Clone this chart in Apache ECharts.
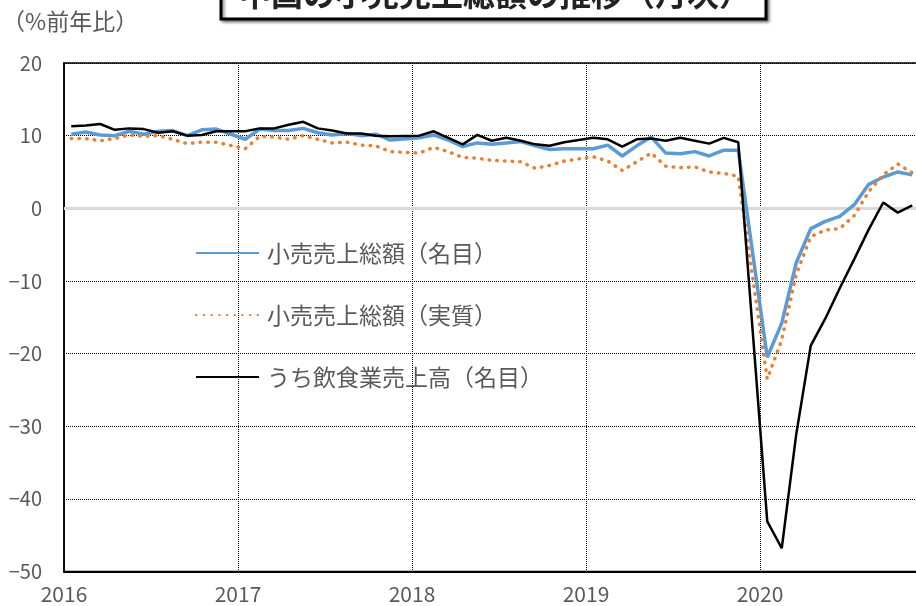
<!DOCTYPE html>
<html>
<head>
<meta charset="utf-8">
<script src="https://cdn.jsdelivr.net/npm/echarts@6/dist/echarts.min.js"></script>
<style>
  html, body { margin: 0; padding: 0; background: #fff; }
  #main { width: 916px; height: 606px; }
</style>
</head>
<body>
<div id="main"></div>
<script>
// one slot per month from Jan 2016; Jan-Feb combined sits in the first slot,
// the last slot of each year is empty and the line just runs through it
const years = ['2016', '2017', '2018', '2019', '2020'];
const seriesNames = ['小売売上総額（名目）', '小売売上総額（実質）', 'うち飲食業売上高（名目）'];

const nominal = [
  10.2, 10.5, 10.1, 10.0, 10.6, 10.2, 10.6, 10.7, 10.0, 10.8, 10.9, null,
  9.5, 10.9, 10.7, 10.7, 11.0, 10.4, 10.1, 10.3, 10.0, 10.2, 9.4, null,
  9.7, 10.1, 9.4, 8.5, 9.0, 8.8, 9.0, 9.2, 8.6, 8.1, 8.2, null,
  8.2, 8.7, 7.2, 8.6, 9.8, 7.6, 7.5, 7.8, 7.2, 8.0, 8.0, null,
  -20.5, -15.8, -7.5, -2.8, -1.8, -1.1, 0.5, 3.3, 4.3, 5.0, 4.6
];
const real = [
  9.6, 9.6, 9.3, 9.6, 10.1, 9.9, 10.0, 9.5, 8.9, 9.1, 9.1, null,
  8.2, 9.9, 9.8, 9.5, 10.0, 9.5, 9.0, 9.1, 8.7, 8.6, 7.8, null,
  7.6, 8.4, 7.8, 7.0, 6.9, 6.6, 6.5, 6.4, 5.5, 5.9, 6.5, null,
  7.1, 6.5, 5.2, 6.4, 7.6, 5.8, 5.6, 5.7, 5.0, 4.8, 4.4, null,
  -23.5, -18.1, -9.1, -3.9, -3.0, -2.8, -1.0, 2.3, 4.6, 6.1, 4.9
];
const catering = [
  11.3, 11.4, 11.6, 10.8, 11.0, 10.9, 10.4, 10.6, 10.0, 10.1, 10.6, null,
  10.6, 11.0, 11.0, 11.5, 11.9, 11.0, 10.7, 10.3, 10.3, 10.0, 9.9, null,
  10.0, 10.6, 9.7, 8.8, 10.1, 9.3, 9.7, 9.3, 8.8, 8.6, 9.1, null,
  9.7, 9.5, 8.5, 9.5, 9.6, 9.3, 9.7, 9.3, 8.9, 9.7, 9.1, null,
  -43.1, -46.8, -31.1, -18.9, -15.2, -11.0, -7.0, -2.9, 0.8, -0.6, 0.4
];

const font = '"Noto Sans CJK JP", "Noto Sans", sans-serif';
const grey = '#595959';

// put each value in the middle of its month slot
const toPoints = (arr) => arr.map((v, i) => [i + 0.5, v]);

const myChart = echarts.init(document.getElementById('main'));

const option = {
  animation: false,
  textStyle: { fontFamily: font },
  title: {
    text: '（%前年比）',
    left: -3,
    top: 5,
    textStyle: { fontSize: 23, fontWeight: 'normal', color: grey, fontFamily: font }
  },
  graphic: [
    {
      type: 'rect',
      shape: { x: 221, y: -32, width: 545, height: 51 },
      style: {
        fill: '#fff', stroke: '#000', lineWidth: 3,
        shadowColor: 'rgba(0,0,0,0.45)', shadowBlur: 3, shadowOffsetX: 2, shadowOffsetY: 2
      },
      z: 10
    },
    {
      type: 'text',
      x: 495,
      y: -6,
      style: {
        text: '中国の小売売上総額の推移（月次）',
        font: 'bold 32px ' + font,
        fill: '#222',
        align: 'center',
        verticalAlign: 'middle'
      },
      z: 11
    }
  ],
  legend: {
    orient: 'vertical',
    left: 195,
    top: 241,
    padding: 0,
    itemWidth: 63,
    itemHeight: 14,
    itemGap: 38,
    data: seriesNames,
    itemStyle: { opacity: 0 },
    textStyle: { fontSize: 23, color: grey, lineHeight: 24, padding: [0, 0, 0, 3], fontFamily: font }
  },
  grid: {
    left: 64,
    top: 63,
    width: 855.5,
    height: 508.5,
    outerBoundsMode: 'none',
    show: true,
    borderColor: '#000',
    borderWidth: 1.5
  },
  xAxis: {
    type: 'value',
    min: 0,
    max: 59,
    interval: 12,
    axisLine: { onZero: false, lineStyle: { color: '#000', width: 2 } },
    axisTick: { show: false },
    axisLabel: {
      margin: 12,
      fontSize: 21,
      color: grey,
      fontFamily: font,
      showMaxLabel: false,
      formatter: (v) => (v % 12 === 0 ? years[v / 12] || '' : '')
    },
    splitLine: { show: true, lineStyle: { color: '#000', type: 'dotted', width: 1 } }
  },
  yAxis: {
    type: 'value',
    min: -50,
    max: 20,
    interval: 10,
    axisLine: { show: true, lineStyle: { color: '#000', width: 1.5 } },
    axisTick: { show: false },
    axisLabel: {
      margin: 22,
      fontSize: 20,
      color: grey,
      fontFamily: font,
      formatter: (v) => String(v).replace('-', '−')
    },
    splitLine: { show: true, lineStyle: { color: '#000', type: 'dotted', width: 1 } }
  },
  series: [
    {
      name: seriesNames[0],
      type: 'line',
      data: toPoints(nominal),
      connectNulls: true,
      symbol: 'none',
      lineStyle: { color: '#5B9BD5', width: 3.5 },
      itemStyle: { color: '#5B9BD5' },
      z: 3,
      markLine: {
        silent: true,
        symbol: 'none',
        z: 1,
        label: { show: false },
        lineStyle: { color: '#d9d9d9', width: 3, type: 'solid' },
        data: [{ yAxis: 0 }]
      }
    },
    {
      name: seriesNames[1],
      type: 'line',
      data: toPoints(real),
      connectNulls: true,
      symbol: 'none',
      lineStyle: { color: '#ED7D31', width: 3.5, type: [0.5, 7.2], cap: 'round' },
      itemStyle: { color: '#ED7D31' },
      z: 4
    },
    {
      name: seriesNames[2],
      type: 'line',
      data: toPoints(catering),
      connectNulls: true,
      symbol: 'none',
      lineStyle: { color: '#000', width: 2.5 },
      itemStyle: { color: '#000' },
      z: 5
    }
  ]
};

myChart.setOption(option);
</script>
</body>
</html>
